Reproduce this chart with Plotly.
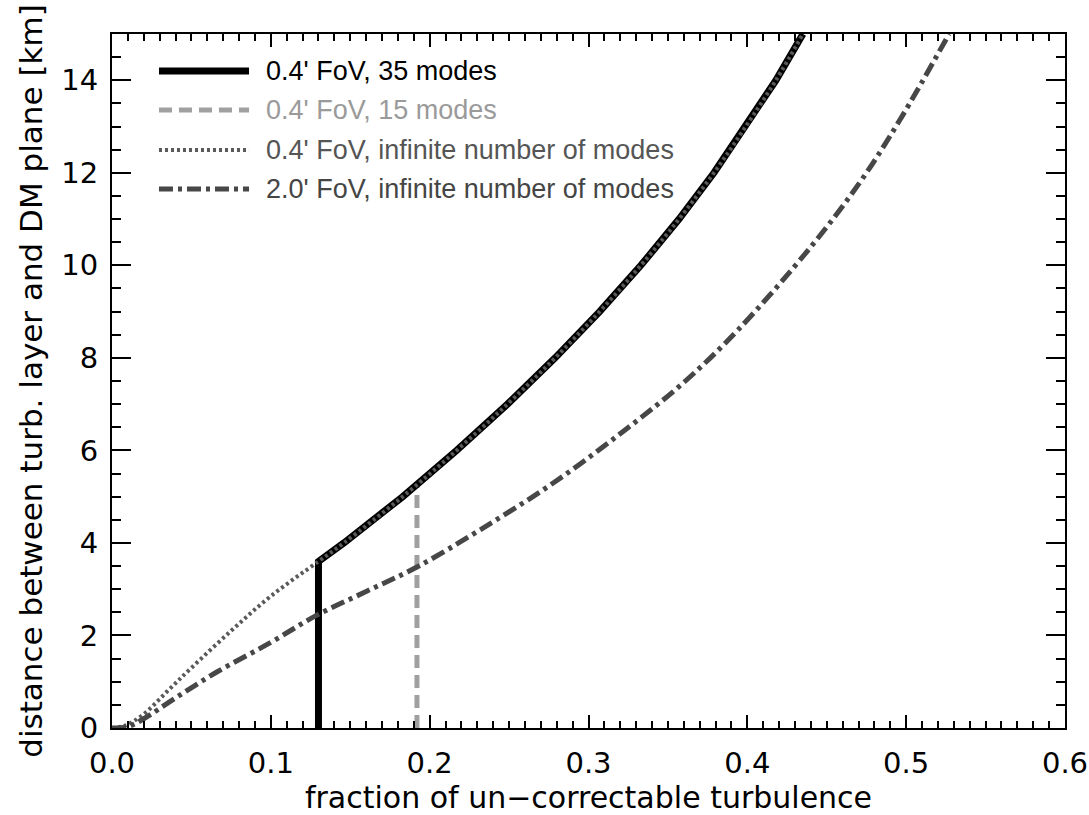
import plotly.graph_objects as go

# Distance between turbulent layer and DM plane [km] vs. fraction of un-correctable turbulence

# 0.4' FoV, infinite number of modes
dist_inf04 = [0, 0.05, 0.3, 0.8, 1.3, 2.1, 2.85, 3.6, 4, 5, 6, 7, 8, 9, 10, 11, 12, 13, 14, 15]
frac_inf04 = [0, 0.008, 0.02, 0.035, 0.05, 0.075, 0.1, 0.13, 0.146, 0.183, 0.217, 0.249,
              0.279, 0.307, 0.333, 0.357, 0.379, 0.399, 0.418, 0.435]

# 0.4' FoV, 35 modes
dist_35 = [0, 3.6, 4, 5, 6, 7, 8, 9, 10, 11, 12, 13, 14, 15]
frac_35 = [0.13, 0.13, 0.146, 0.183, 0.217, 0.249, 0.279, 0.307, 0.333, 0.357, 0.379,
           0.399, 0.418, 0.435]

# 0.4' FoV, 15 modes
dist_15 = [0, 5.27, 6, 7, 8, 9, 10, 11, 12, 13, 14, 15]
frac_15 = [0.192, 0.192, 0.217, 0.249, 0.279, 0.307, 0.333, 0.357, 0.379, 0.399, 0.418, 0.435]

# 2.0' FoV, infinite number of modes
dist_2fov = [0, 0.03, 0.2, 0.65, 1.21, 1.85, 2.44, 2.95, 3.48, 4.28, 5.3, 6.44, 7.5, 8.6,
             10.4, 11.8, 13.14, 15]
frac_2fov = [0, 0.01, 0.02, 0.04, 0.066, 0.1, 0.129, 0.16, 0.192, 0.2316, 0.278, 0.323,
             0.361, 0.394, 0.440, 0.471, 0.496, 0.527]

legend_labels = ["0.4' FoV, 35 modes",
                 "0.4' FoV, 15 modes",
                 "0.4' FoV, infinite number of modes",
                 "2.0' FoV, infinite number of modes"]

x_ticks = [0.0, 0.1, 0.2, 0.3, 0.4, 0.5, 0.6]
y_ticks = [0, 2, 4, 6, 8, 10, 12, 14]

# line styles: (colour, width, dash)
styles = [
    ("#000000", 7, "solid"),
    ("#a0a0a0", 5, "13px,7px"),
    ("#5a5a5a", 4, "3px,3px"),
    ("#474747", 5, "14px,5px,4px,5px"),
]
text_colors = ["#000000", "#9a9a9a", "#555555", "#454545"]

fig = go.Figure()

series = [
    (frac_35, dist_35, "linear"),
    (frac_15, dist_15, "linear"),
    (frac_inf04, dist_inf04, "spline"),
    (frac_2fov, dist_2fov, "spline"),
]
# draw the 15-mode curve first so the 35-mode curve covers its upper branch
order = [1, 0, 2, 3]
for i in order:
    xs, ys, shape = series[i]
    col, w, dash = styles[i]
    fig.add_trace(go.Scatter(
        x=xs, y=ys, mode="lines", name=legend_labels[i], showlegend=False,
        line=dict(color=col, width=w, dash=dash, shape=shape),
    ))

# hand-built legend: sample line + coloured label per entry
leg_x0, leg_x1, leg_tx = 0.0493, 0.1438, 0.160
leg_rows = [0.9467, 0.8905, 0.8329, 0.7767]
for i, lab in enumerate(legend_labels):
    col, w, dash = styles[i]
    fig.add_shape(type="line", xref="paper", yref="paper",
                  x0=leg_x0, x1=leg_x1, y0=leg_rows[i], y1=leg_rows[i],
                  line=dict(color=col, width=w, dash=dash))
    fig.add_annotation(xref="paper", yref="paper", x=leg_tx, y=leg_rows[i],
                       xanchor="left", yanchor="middle", showarrow=False,
                       text=lab, font=dict(family="Liberation Sans, Arial", size=27,
                                           color=text_colors[i]))

tick_font = dict(family="DejaVu Sans", size=29, color="black")
common = dict(showgrid=False, zeroline=False, showline=True, linecolor="black",
              linewidth=2, mirror="ticks", ticks="inside", tickwidth=2,
              tickcolor="black", tickfont=tick_font)

fig.update_xaxes(range=[0, 0.6], tickvals=x_ticks, ticktext=[f"{v:.1f}" for v in x_ticks],
                 ticklen=13, ticklabelstandoff=8,
                 minor=dict(dtick=0.01, ticks="inside", ticklen=7, tickwidth=2,
                            tickcolor="black"),
                 title=dict(text="fraction of un\u2212correctable turbulence",
                            font=dict(family="DejaVu Sans", size=30, color="black"),
                            standoff=8),
                 **common)
fig.update_yaxes(range=[0, 15], tickvals=y_ticks, ticktext=[str(v) for v in y_ticks],
                 ticklen=19, ticklabelstandoff=6,
                 minor=dict(dtick=0.5, ticks="inside", ticklen=9, tickwidth=2,
                            tickcolor="black"),
                 title=dict(text="distance between turb. layer and DM plane [km]",
                            font=dict(family="DejaVu Sans", size=31, color="black"),
                            standoff=9),
                 **common)

fig.update_layout(
    width=1089, height=815, autosize=False,
    margin=dict(l=112, r=24, t=34, b=87, autoexpand=False),
    paper_bgcolor="white", plot_bgcolor="white",
    font=dict(family="DejaVu Sans", color="black"),
)

fig.write_html("out.html")
